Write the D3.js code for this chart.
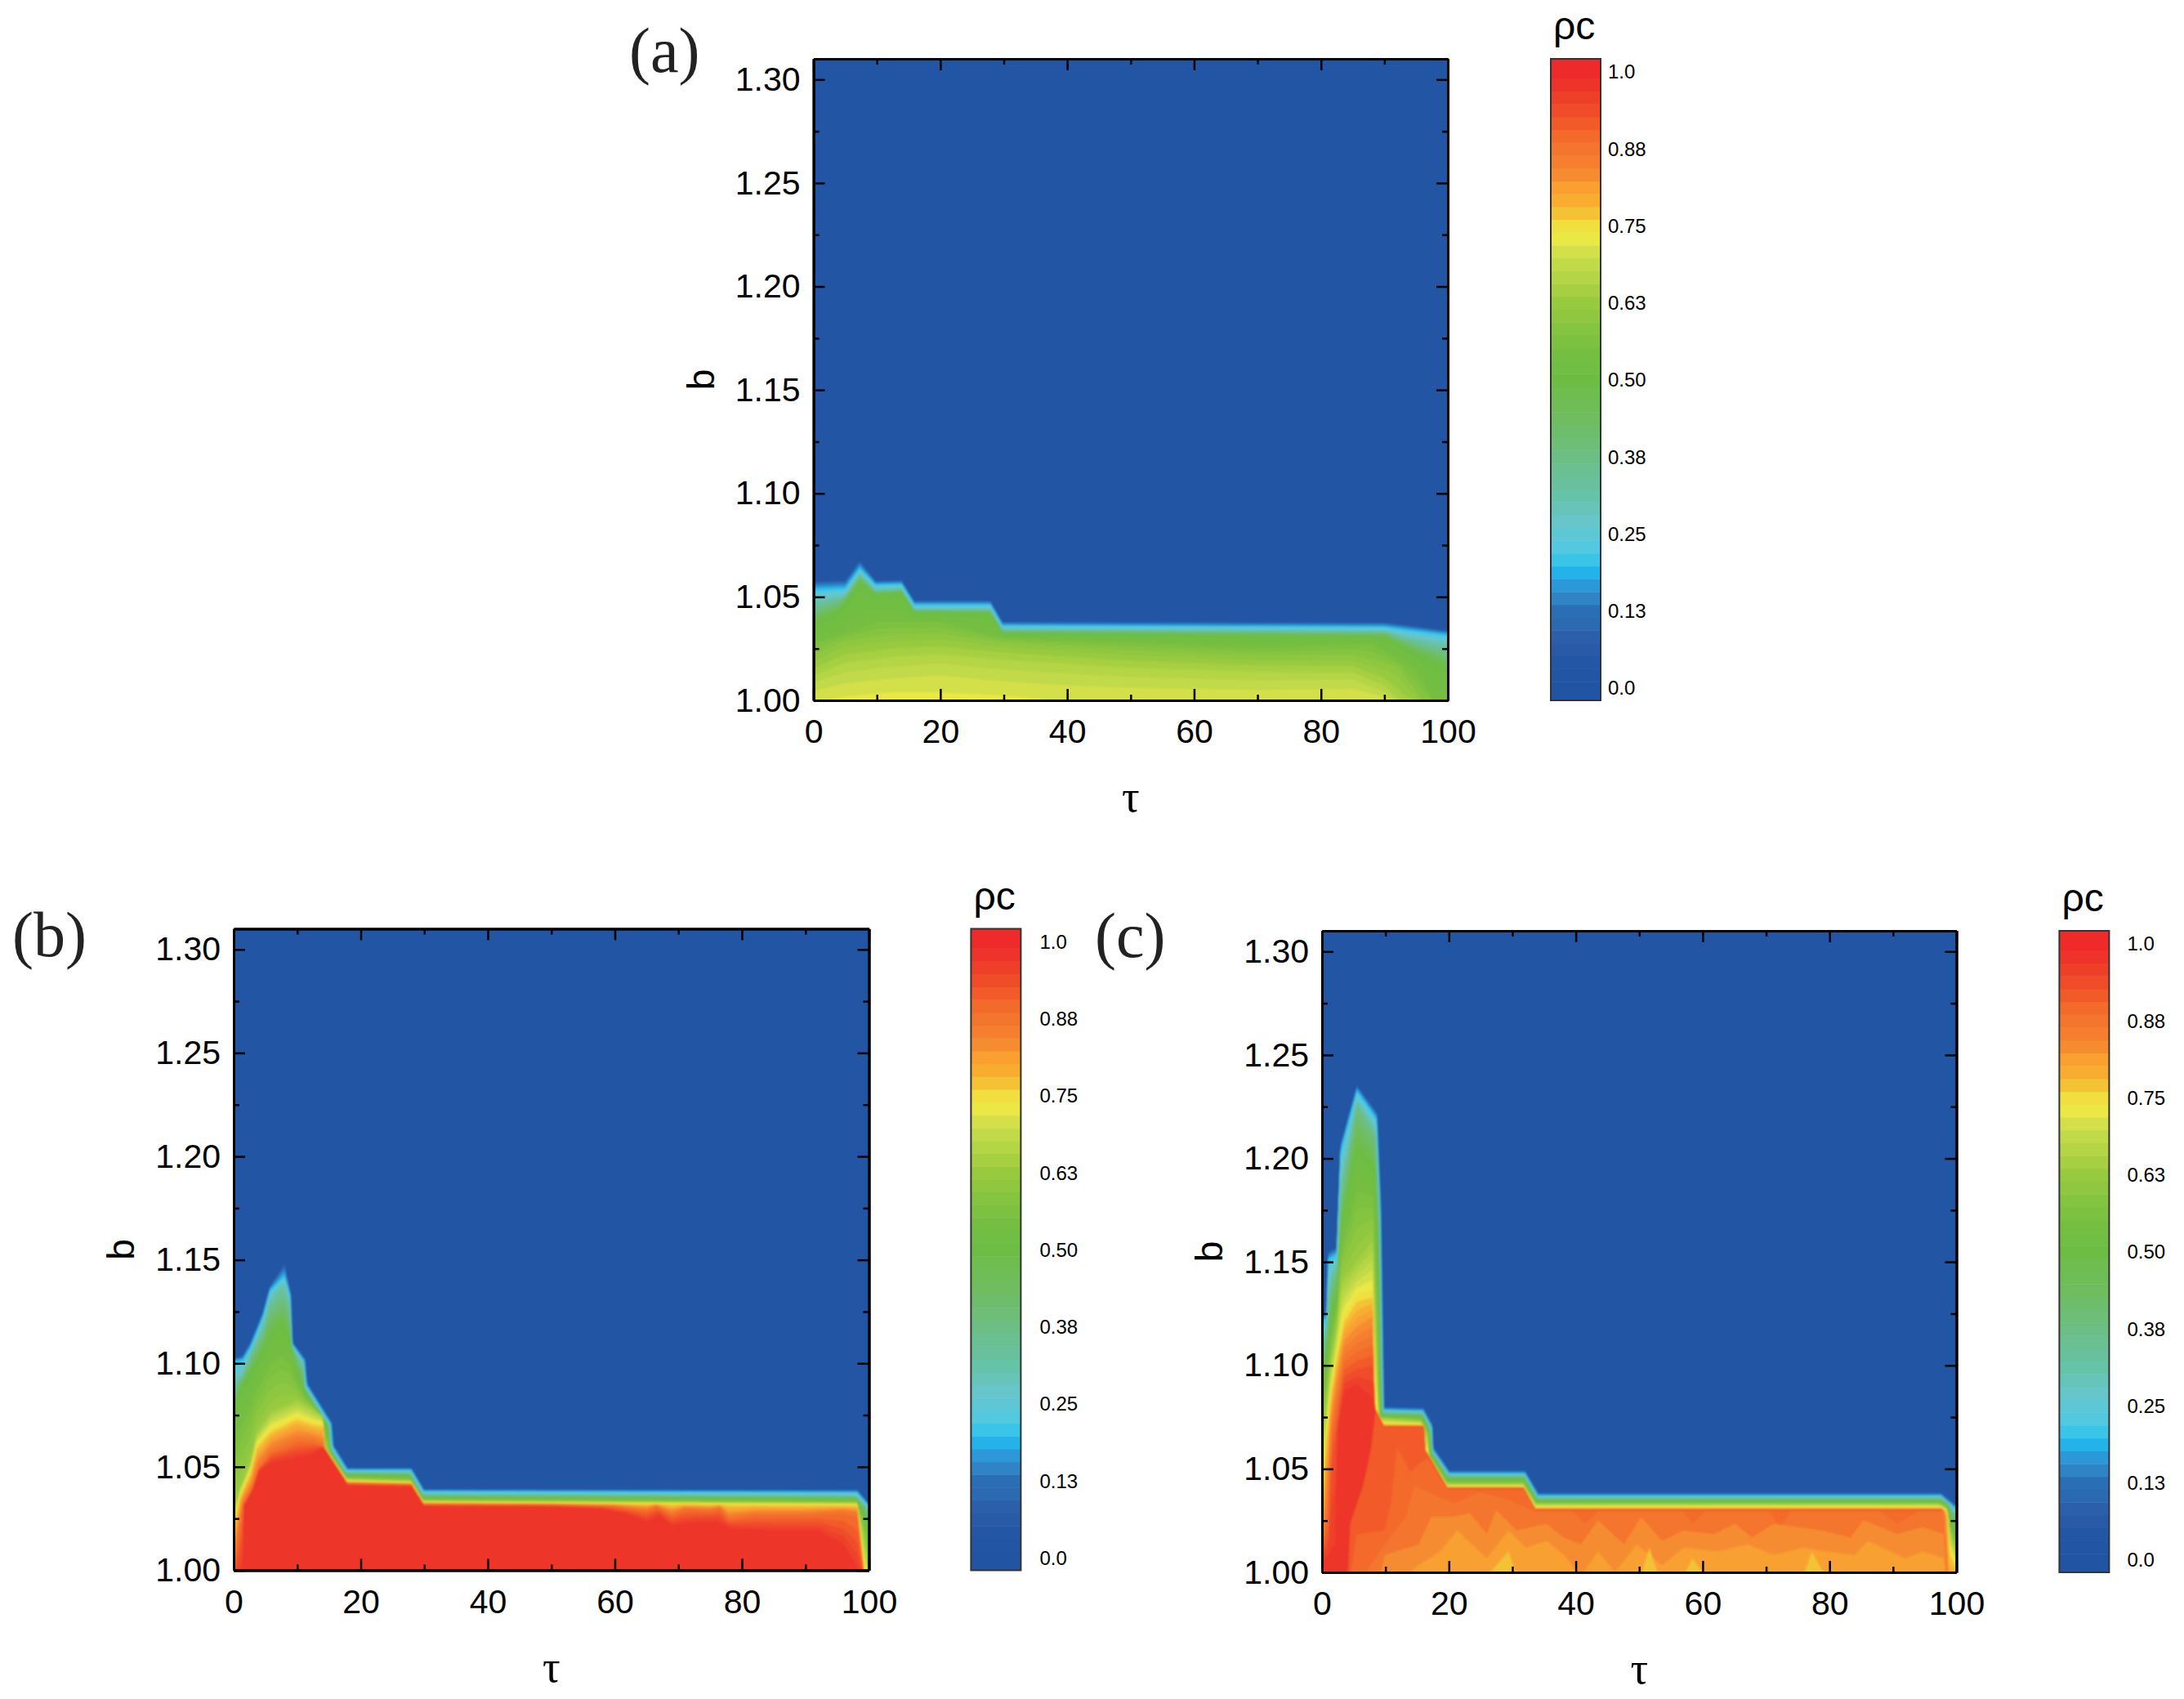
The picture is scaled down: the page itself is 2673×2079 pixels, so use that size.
<!DOCTYPE html>
<html>
<head>
<meta charset="utf-8">
<script src="https://cdn.jsdelivr.net/npm/d3@7"></script>
<style>
  body { margin: 0; background: #fff; }
  text { fill: #000; }
</style>
</head>
<body>
<svg id="chart" width="2673" height="2079"></svg>
<script>
// colour bar
const colorStops = [0, .04, .08, .10, .125, .15, .17, .19, .21, .23, .27, .31, .375, .44, .5, .54, .58, .625, .66, .69, .71, .73, .75, .77, .79, .8125, .833, .854, .875, .90, .925, .96, 1];
const colorHex = ['#2155a4', '#2357a6', '#2c5da9', '#2b68b0', '#2a6fb6', '#3088c8', '#2c9bdb', '#22b6ec', '#3bc5e8', '#55c8de', '#67c6cb', '#65c3a9', '#6dbe84', '#6fbd5e', '#6dbd45', '#73be42', '#84c341', '#98ca3f', '#b0d444', '#c2da48', '#d6e04a', '#ebe844', '#f1df3f', '#f3c335', '#f8ae30', '#f9a030', '#f68c30', '#f57f2e', '#f4752d', '#f3682b', '#f1532a', '#ee3e29', '#ee2a2b'];
const barValues = [1, .875, .75, .625, .5, .375, .25, .125, 0];
const barLabels = ['1.0', '0.88', '0.75', '0.63', '0.50', '0.38', '0.25', '0.13', '0.0'];
const bandCount = 48;

const tauMajor = [0, 20, 40, 60, 80, 100];
const tauMinor = [10, 30, 50, 70, 90];
const bMajor = [1, 1.05, 1.10, 1.15, 1.20, 1.25, 1.30];
const bMinor = [1.025, 1.075, 1.125, 1.175, 1.225, 1.275];

// contour lines, each a list of [tau, b] at one value of rho_c
// panel (a)
const levelsA = [.1, .2, .3, .5, .55, .6, .65, .69, .72, .75];
const contoursA = [
  [[0,1.0572],[5,1.0576],[7.3,1.0671],[9.8,1.0576],[13.9,1.0579],[15.9,1.048],[27.9,1.048],[29.8,1.0378],[90,1.0375],[100,1.0336]],
  [[0,1.0536],[5,1.0542],[7.3,1.0638],[9.8,1.0559],[13.9,1.0562],[15.9,1.0463],[27.9,1.0463],[29.8,1.0362],[90,1.0355],[100,1.0316]],
  [[0,1.048],[5,1.0507],[7.3,1.0612],[9.8,1.0533],[13.9,1.054],[15.9,1.0441],[27.9,1.0441],[29.8,1.0345],[90,1.0336],[93,1.0309],[100,1.027]],
  [[0,1.0368],[4,1.0434],[7.3,1.0572],[9.8,1.0513],[13.9,1.052],[15.9,1.0428],[27.9,1.0421],[29.8,1.0322],[90,1.0309],[95,1.0224],[100,1.0158]],
  [[0,1.028],[5,1.0329],[10,1.0382],[20,1.0382],[29.8,1.0303],[50,1.0283],[70,1.0257],[88,1.0276],[95,1.0145],[98,.9987]],
  [[0,1.0211],[5,1.0283],[12,1.0309],[20,1.0316],[30,1.0276],[50,1.0237],[70,1.0211],[85,1.0211],[92,1.0158],[96,.9987]],
  [[0,1.0132],[5,1.0197],[12,1.0224],[20,1.0237],[30,1.0211],[50,1.0171],[70,1.0151],[85,1.0145],[90,1.0079],[93,.9987]],
  [[0,1.0066],[5,1.0105],[12,1.0132],[20,1.0151],[30,1.0118],[50,1.0086],[70,1.0072],[85,1.0079],[90,1.0026],[92,.9987]],
  [[0,.9987],[5,1.0013],[12,1.0033],[20,1.0033],[30,1.002],[40,.9987]],
  [[0,.9975],[100,.9975]]
];

// panel (b)
const levelsB = [.1, .2, .3, .5, .63, .75, .88, .97];
const contoursB = [
  [[0,1.1024],[1.4,1.1035],[2.6,1.11],[4.6,1.1246],[5.7,1.1371],[8,1.1476],[9,1.1338],[9.3,1.11],[11.3,1.1021],[11.6,1.0903],[15.5,1.0712],[15.7,1.0606],[18,1.0494],[28,1.0494],[30,1.0391],[98.2,1.0389],[100,1.0323]],
  [[0,1.1008],[1.4,1.1015],[2.6,1.1074],[4.6,1.1226],[5.7,1.1351],[8,1.1423],[8.9,1.1325],[9.2,1.1094],[11.1,1.1008],[11.4,1.0896],[15.3,1.0705],[15.5,1.06],[17.8,1.0485],[27.9,1.0485],[29.9,1.0382],[98.1,1.0376],[100,1.031]],
  [[0,1.0903],[1.5,1.0956],[2.6,1.1048],[4.6,1.118],[5.7,1.1311],[7.8,1.139],[8.8,1.1298],[9.1,1.1087],[11,1.1002],[11.2,1.089],[15.1,1.0699],[15.3,1.0593],[17.7,1.0474],[27.8,1.0474],[29.8,1.0369],[98,1.0362],[100,1.0297]],
  [[0,1.0771],[1,1.0876],[2.6,1.0956],[4.6,1.1061],[5.7,1.114],[7.6,1.1193],[8.8,1.1127],[10,1.0956],[10.8,1.0909],[11,1.0876],[14.9,1.0695],[15.1,1.0584],[17.6,1.0461],[27.7,1.0455],[29.7,1.0352],[97.9,1.0345],[99.5,1.027],[100,1.0178]],
  [[0,1.0297],[1,1.0402],[2.7,1.0534],[3.6,1.0666],[5.9,1.0771],[10,1.0824],[12.3,1.0784],[14,1.0745],[14.3,1.0597],[17.8,1.0442],[27.9,1.0432],[29.8,1.0336],[98.1,1.0326],[99.6,1.0112],[99.8,.9987]],
  [[0,1.0231],[1,1.0362],[2.7,1.0481],[3.6,1.06],[5.9,1.0679],[10,1.0738],[12.3,1.0712],[14.1,1.0705],[14.35,1.0593],[17.85,1.0431],[28,1.0424],[29.85,1.033],[98.2,1.0316],[99.3,.9987]],
  [[0,1.0033],[.9,1.0217],[1.3,1.031],[2.9,1.0402],[3.9,1.0494],[5.9,1.0573],[10,1.0626],[12.3,1.0626],[14.2,1.06],[14.4,1.0587],[17.9,1.0422],[28,1.0415],[29.9,1.032],[50,1.0318],[60,1.031],[65,1.029],[66.5,1.031],[69,1.027],[71,1.0297],[75,1.029],[76.5,1.0303],[78,1.025],[82,1.027],[90,1.027],[96,1.0283],[98.2,1.027],[99.2,.9987]],
  [[.8,.9967],[1.4,1.0007],[1.6,1.031],[3,1.0382],[4,1.0481],[6,1.0521],[8,1.0534],[10,1.0547],[12.3,1.056],[14,1.0593],[14.45,1.058],[18,1.0409],[28,1.0405],[30,1.031],[50,1.0307],[58,1.0297],[62,1.027],[65,1.0237],[67,1.0264],[69,1.0217],[72,1.0231],[76,1.0237],[78,1.0204],[85,1.0191],[92,1.0191],[96,1.0125],[98,1.002],[98.3,.9967]]
];

// panel (c)
const levelsC = [.1, .2, .38, .5, .63, .75, .82, .88, .93, .97];
const contoursC = [
  [[0,1.1235],[.7,1.1268],[1,1.1546],[2.4,1.1571],[3,1.2075],[5.5,1.2352],[8.7,1.2218],[9.3,1.1764],[9.8,1.0798],[16,1.0793],[17.4,1.0714],[17.55,1.0605],[20.1,1.0491],[32,1.0491],[34.1,1.0383],[97.6,1.0383],[100,1.0323]],
  [[0,1.1201],[.7,1.1235],[1,1.1512],[2.3,1.1537],[2.9,1.2033],[5.5,1.2327],[8.6,1.2192],[9.2,1.1747],[9.65,1.0785],[15.9,1.078],[17.3,1.0702],[17.45,1.0591],[20,1.0477],[32,1.0477],[34,1.037],[97.5,1.037],[100,1.0306]],
  [[0,1.1042],[.7,1.1142],[1.5,1.1378],[2.4,1.1445],[3,1.1781],[5.5,1.2243],[8.4,1.21],[9,1.1714],[9.4,1.0769],[15.8,1.0766],[17.1,1.0692],[17.25,1.0585],[19.9,1.0462],[31.9,1.0462],[33.9,1.0356],[97.4,1.0356],[98.6,1.0339],[100,1.0252]],
  [[0,1.0941],[.7,1.1042],[1.5,1.1243],[2.4,1.1344],[3,1.1663],[5.5,1.2058],[8.2,1.1949],[8.8,1.1512],[9.2,1.0756],[15.7,1.0753],[16.9,1.068],[17.05,1.0575],[19.8,1.045],[31.8,1.045],[33.8,1.0344],[97.3,1.0344],[98.4,1.0328],[99,1.0252],[100,1.0185]],
  [[0,1.0638],[.7,1.084],[1.5,1.1042],[2.4,1.121],[3,1.1411],[5.5,1.1512],[8,1.1613],[8.6,1.1109],[8.9,1.0748],[15.6,1.0731],[16.7,1.0664],[16.8,1.0566],[19.7,1.0428],[31.7,1.0428],[33.7,1.0331],[97.2,1.0331],[98.4,1.0311],[99,1.0202],[100,1.0101]],
  [[0,1.0403],[.6,1.0638],[1.5,1.089],[2.4,1.1058],[3.5,1.1226],[5.5,1.1327],[8,1.1344],[8.3,1.0798],[9.7,1.0717],[15.9,1.0714],[16.2,1.0596],[19.7,1.0415],[31.7,1.0415],[33.6,1.0314],[97.6,1.0314],[98.6,1.0294],[99,1.0101],[99.5,1.0067],[100,1.0025]],
  [[0,1.0185],[.7,1.047],[1.5,1.0789],[2.4,1.0958],[3.5,1.1126],[5.5,1.1193],[8,1.1243],[8.35,1.0795],[9.75,1.0712],[16,1.0711],[16.25,1.0593],[19.75,1.0412],[31.75,1.0412],[33.65,1.0309],[97.7,1.0309],[98.4,1.0286],[98.7,.9966]],
  [[0,1.0134],[.8,1.0269],[1.5,1.0672],[2.4,1.084],[3.5,1.1025],[5.5,1.1075],[8,1.1109],[8.4,1.079],[9.8,1.0707],[16.05,1.0706],[16.3,1.0591],[19.8,1.0408],[31.8,1.0408],[33.7,1.0304],[97.7,1.0304],[98.1,.9966]],
  [[0,1.0101],[1,1.0151],[1.6,1.0521],[2.4,1.0706],[3.5,1.0941],[5.5,1.0974],[8,1.0991],[8.45,1.0785],[9.85,1.0702],[16.1,1.0702],[16.35,1.0588],[19.85,1.0405],[31.85,1.0405],[33.75,1.0301],[97.7,1.0301],[98,.9966]],
  [[0,1.005],[2,1.0118],[2.5,1.0689],[3.5,1.0874],[5.5,1.0907],[8,1.084],[8.5,1.0773],[9.9,.9966]]
];
// inner patches of panel (c), where rho_c falls again towards b = 1
const innerLevelsC = [.92, .896, .875, .833, .8125, .77];
const innerContoursC = [
  [[4.1,.9983],[4.45,1.0235],[6.5,1.042],[7.8,1.0605],[8.4,1.0773],[9.9,1.0698],[16.1,1.0698],[16.35,1.0586],[19.9,1.0402],[32,1.0402],[33.8,1.0298],[98,1.0298],[98.4,.9983]],
  [[4.45,.9983],[5.5,1.0185],[9.85,1.0202],[10.85,1.0336],[11.85,1.0605],[13.9,1.0487],[16.6,1.0554],[19.3,1.0425],[19.95,1.0402],[32,1.0402],[33.8,1.0298],[98,1.0298],[98.4,.9983]],
  [[6.5,.9983],[9.85,1.0134],[13.2,1.0269],[14.56,1.042],[17.9,1.037],[21,1.0336],[24.66,1.0386],[29.4,1.0353],[33.4,1.0294],[39.5,1.0294],[41.5,1.0235],[43.5,1.0294],[57,1.0294],[58.4,1.0235],[60.4,1.0294],[70.5,1.0294],[72.2,1.0218],[73.9,1.0294],[88,1.0294],[90.7,1.0235],[94.1,1.0294],[98,1.0294],[98.4,.9983]],
  [[9.2,.9983],[9.84,1.0084],[15.2,1.0134],[17.25,1.0269],[20.6,1.0269],[23.3,1.0286],[26,1.0185],[27.4,1.0302],[30.7,1.0202],[35.4,1.0235],[38.1,1.0168],[40.8,1.0134],[43.5,1.0252],[47.6,1.0134],[50.3,1.0269],[53.6,1.0151],[57,1.0202],[61.7,1.0185],[65.1,1.0235],[67.8,1.0168],[71.2,1.0235],[78.6,1.0202],[83.3,1.0168],[85.3,1.0252],[90.7,1.0185],[94.7,1.0218],[98,1.0185],[98.4,.9983]],
  [[13.2,.9983],[15.2,1.0034],[18.6,1.0101],[21.3,1.0202],[26,1.0067],[29.4,1.0202],[32.1,1.0118],[35.4,1.0151],[38.1,1.0084],[40.8,.9983],[43.5,1.0101],[46.2,1],[49.6,1.0134],[53.6,1.0034],[57,1.0118],[62.4,1.0101],[67.1,1.0134],[71.2,1.0084],[75.9,1.0118],[79.3,1.0101],[84,1.0084],[86,1.0151],[92,1.0067],[94.7,1.0101],[98,1.0067],[98.4,.9983]],
  [[26,.9983],[29.4,1.0101],[30.7,.9983],[50.3,.9983],[51.6,1.0118],[53,.9983],[57,.9983],[58.4,1.0067],[60.4,.9983],[75.9,.9983],[77.2,1.0101],[79.3,.9983]]
];

// where each panel sits on the page
const panels = [
  { name: '(a)', nameX: 770, nameY: 88, left: 995.6, right: 1772, top: 72, bottom: 857, barGap: 9, levels: levelsA, contours: contoursA },
  { name: '(b)', nameX: 15, nameY: 1170, left: 286, right: 1063.5, top: 1136.5, bottom: 1921.5, barGap: 23, levels: levelsB, contours: contoursB },
  { name: '(c)', nameX: 1340, nameY: 1171, left: 1618, right: 2394.5, top: 1139, bottom: 1924, barGap: 22, levels: levelsC, contours: contoursC, innerLevels: innerLevelsC, innerContours: innerContoursC }
];

const svg = d3.select('#chart');
const serif = '"Liberation Serif", serif';
const sans = '"Liberation Sans", Arial, sans-serif';
const stepColor = d3.scaleLinear().domain(colorStops).range(colorHex);

// the scan is a little soft, so the field gets a small blur
svg.append('filter').attr('id', 'soft')
  .attr('x', '-2%').attr('y', '-2%').attr('width', '104%').attr('height', '104%')
  .append('feGaussianBlur').attr('stdDeviation', 1);

function contourFn(line) {
  return d3.scaleLinear().domain(line.map(p => p[0])).range(line.map(p => p[1])).clamp(true);
}

// contour line for any value, between the two lines that were read around it
function lineAt(value, levels, contours) {
  if (value <= levels[0]) return contours[0];
  let i = d3.bisectRight(levels, value) - 1;
  let fa = contourFn(contours[i]);
  let fb = contourFn(contours[i + 1]);
  let f = (value - levels[i]) / (levels[i + 1] - levels[i]);
  let taus = Array.from(new Set([0, 100, ...contours[i].map(p => p[0]), ...contours[i + 1].map(p => p[0])])).sort(d3.ascending);
  return taus.map(t => [t, fa(t) * (1 - f) + fb(t) * f]);
}

function drawPanel(p, idx) {
  const x = d3.scaleLinear().domain([0, 100]).range([p.left, p.right]);
  const y = d3.scaleLinear().domain([1, 1.31]).range([p.bottom, p.top]);
  const g = svg.append('g');

  const clipId = 'clip' + idx;
  g.append('clipPath').attr('id', clipId).append('rect')
    .attr('x', p.left).attr('y', p.top).attr('width', p.right - p.left).attr('height', p.bottom - p.top);

  const field = g.append('g').attr('clip-path', `url(#${clipId})`).append('g').attr('filter', 'url(#soft)');
  field.append('rect')
    .attr('x', x(-2)).attr('y', y(1.32)).attr('width', x(102) - x(-2)).attr('height', y(.98) - y(1.32))
    .attr('fill', stepColor(0));

  // filled down past the frame so the blur does not show at the edges
  const area = d3.area().x(d => x(d[0])).y0(y(.98)).y1(d => y(d[1]));
  const padded = line => [[-2, line[0][1]], ...line, [102, line[line.length - 1][1]]];

  // rising part: one filled band per colour step
  const maxLevel = p.levels[p.levels.length - 1];
  d3.range(1, bandCount + 1).forEach(k => {
    const edge = (k - 0.5) / bandCount;
    if (edge > maxLevel) return;
    field.append('path')
      .attr('d', area(padded(lineAt(edge, p.levels, p.contours))))
      .attr('fill', stepColor(k / bandCount));
  });

  // falling part, only panel (c) has it
  (p.innerContours || []).forEach((line, i) => {
    field.append('path')
      .attr('d', area(padded(line)))
      .attr('fill', stepColor(Math.round(p.innerLevels[i] * bandCount) / bandCount));
  });

  // axes, ticks point inwards on all four sides
  const addAxis = (axis, tx, ty, labelled) => {
    const a = g.append('g').attr('transform', `translate(${tx},${ty})`).call(axis);
    a.selectAll('.domain').attr('stroke', '#000').attr('stroke-width', 3);
    a.selectAll('.tick line').attr('stroke', '#000').attr('stroke-width', 2.5);
    a.selectAll('text').style('font-family', sans).style('font-size', '41px');
    if (!labelled) a.selectAll('text').remove();
  };
  const bFormat = d3.format('.2f');
  addAxis(d3.axisBottom(x).tickValues(tauMajor).tickSizeInner(-14).tickSizeOuter(0).tickPadding(23).tickFormat(d3.format('d')), 0, p.bottom, true);
  addAxis(d3.axisBottom(x).tickValues(tauMinor).tickSizeInner(-7).tickSizeOuter(0), 0, p.bottom, false);
  addAxis(d3.axisTop(x).tickValues(tauMajor).tickSizeInner(-14).tickSizeOuter(0), 0, p.top, false);
  addAxis(d3.axisTop(x).tickValues(tauMinor).tickSizeInner(-7).tickSizeOuter(0), 0, p.top, false);
  addAxis(d3.axisLeft(y).tickValues(bMajor).tickSizeInner(-14).tickSizeOuter(0).tickPadding(16).tickFormat(bFormat), p.left, 0, true);
  addAxis(d3.axisLeft(y).tickValues(bMinor).tickSizeInner(-7).tickSizeOuter(0), p.left, 0, false);
  addAxis(d3.axisRight(y).tickValues(bMajor).tickSizeInner(-14).tickSizeOuter(0), p.right, 0, false);
  addAxis(d3.axisRight(y).tickValues(bMinor).tickSizeInner(-7).tickSizeOuter(0), p.right, 0, false);

  // titles
  g.append('text').attr('x', (p.left + p.right) / 2).attr('y', p.bottom + 136)
    .attr('text-anchor', 'middle').style('font-family', serif).style('font-size', '54px').text('τ');
  g.append('text')
    .attr('transform', `translate(${p.left - 122},${(p.top + p.bottom) / 2}) rotate(-90)`)
    .attr('text-anchor', 'middle').style('font-family', sans).style('font-size', '46px').text('b');
  g.append('text').attr('x', p.nameX).attr('y', p.nameY)
    .style('font-family', serif).style('font-size', '78px').style('fill', '#222').text(p.name);

  // colour bar
  const barLeft = p.left + 902.4;
  const barWidth = 61;
  const barY = d3.scaleLinear().domain([0, 1]).range([p.bottom - 15, p.top + 16]);
  const half = 0.5 / bandCount;
  const bar = g.append('g');
  bar.selectAll('rect.band')
    .data(d3.range(0, bandCount + 1).map(k => k / bandCount))
    .join('rect')
    .attr('class', 'band')
    .attr('x', barLeft)
    .attr('width', barWidth)
    .attr('y', d => d === 1 ? p.top : barY(d + half))
    .attr('height', d => {
      const lo = d === 0 ? p.bottom : barY(d - half);
      const hi = d === 1 ? p.top : barY(d + half);
      return lo - hi + 0.5;
    })
    .attr('fill', d => stepColor(d));
  bar.append('rect')
    .attr('x', barLeft).attr('y', p.top).attr('width', barWidth).attr('height', p.bottom - p.top)
    .attr('fill', 'none').attr('stroke', '#333').attr('stroke-width', 2);
  bar.selectAll('text.barlabel')
    .data(barValues)
    .join('text')
    .attr('class', 'barlabel')
    .attr('x', barLeft + barWidth + p.barGap)
    .attr('y', d => barY(d))
    .attr('dy', '0.35em')
    .style('font-family', sans)
    .style('font-size', '24px')
    .text((d, i) => barLabels[i]);
  bar.append('text')
    .attr('x', barLeft + 3).attr('y', p.top - 24)
    .style('font-family', sans).style('font-size', '48px').text('ρc');
}

panels.forEach(drawPanel);
</script>
</body>
</html>
